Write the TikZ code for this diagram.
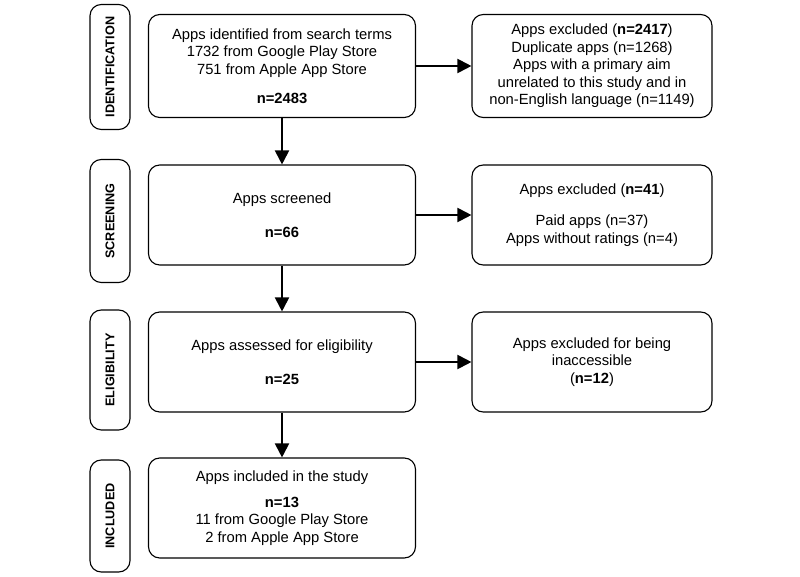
\documentclass[tikz,border=0pt]{standalone}
\usepackage{fontspec}
\setmainfont{Liberation Sans}
\usetikzlibrary{arrows.meta}
\tikzset{
  box/.style={draw,thick,rounded corners=8pt,align=center,font=\fontsize{10.5}{12.5}\selectfont,inner sep=2pt},
  stage/.style={draw,thick,rounded corners=8pt,minimum width=40*0.025cm,font=\small\bfseries},
  flow/.style={-{Triangle[length=10pt,width=10pt]},line width=1.4pt}
}
\begin{document}
\begin{tikzpicture}[x=0.025cm,y=-0.025cm]
  \useasboundingbox (0,0) rectangle (800,577);

  % stages
  \node[stage,minimum height=125*0.025cm] (sid) at (110,67) {\rotatebox{90}{IDENTIFICATION}};
  \node[stage,minimum height=123*0.025cm] (ssc) at (110,221) {\rotatebox{90}{SCREENING}};
  \node[stage,minimum height=120*0.025cm] (sel) at (110,370) {\rotatebox{90}{ELIGIBILITY}};
  \node[stage,minimum height=112*0.025cm] (sin) at (110,516) {\rotatebox{90}{INCLUDED}};

  % main boxes
  \node[box,minimum width=267*0.025cm,minimum height=103*0.025cm] (ident) at (282,66)
    {Apps identified from search terms\\1732 from Google Play Store\\751 from Apple App Store\\[8pt]\textbf{n=2483}};
  \node[box,minimum width=267*0.025cm,minimum height=100*0.025cm] (scr) at (282,215)
    {Apps screened\\[12pt]\textbf{n=66}};
  \node[box,minimum width=267*0.025cm,minimum height=100*0.025cm] (elig) at (282,362)
    {Apps assessed for eligibility\\[12pt]\textbf{n=25}};
  \node[box,minimum width=267*0.025cm,minimum height=100*0.025cm] (incl) at (282,508)
    {Apps included in the study\\[6pt]\textbf{n=13}\\11 from Google Play Store\\2 from Apple App Store};

  % exclusions
  \node[box,minimum width=240*0.025cm,minimum height=103*0.025cm] (exid) at (592,66)
    {Apps excluded (\textbf{n=2417})\\Duplicate apps (n=1268)\\Apps with a primary aim\\unrelated to this study and in\\non-English language (n=1149)};
  \node[box,minimum width=240*0.025cm,minimum height=100*0.025cm] (exscr) at (592,215)
    {Apps excluded (\textbf{n=41})\\[10pt]Paid apps (n=37)\\Apps without ratings (n=4)};
  \node[box,minimum width=240*0.025cm,minimum height=100*0.025cm] (exel) at (592,362)
    {Apps excluded for being\\inaccessible\\(\textbf{n=12})};

  % arrows
  \draw[flow] (ident) -- (scr);
  \draw[flow] (scr) -- (elig);
  \draw[flow] (elig) -- (incl);
  \draw[flow] (ident) -- (exid);
  \draw[flow] (scr) -- (exscr);
  \draw[flow] (elig) -- (exel);
\end{tikzpicture}
\end{document}
